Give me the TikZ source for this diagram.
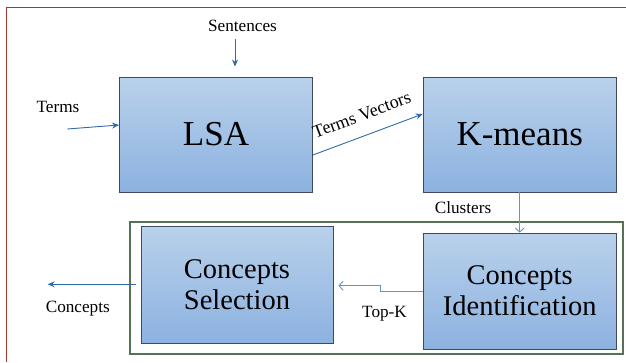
\documentclass[tikz,border=0pt]{standalone}
\usepackage{fontspec}
\setmainfont{Liberation Serif}
\usetikzlibrary{arrows.meta,calc}
\definecolor{boxtop}{HTML}{B9D1EB}
\definecolor{boxbot}{HTML}{8CB2E0}
\definecolor{boxline}{HTML}{3F4A5C}
\definecolor{flowblue}{HTML}{2F6BA9}
\definecolor{lightflow}{HTML}{5E95CB}
\definecolor{framered}{HTML}{A33A2E}
\definecolor{framegreen}{HTML}{557255}

\begin{document}
\begin{tikzpicture}[x=1pt,y=-1pt,
  stage/.style={draw=boxline,line width=0.9pt,top color=boxtop,bottom color=boxbot,
    minimum width=193pt,minimum height=115pt,inner sep=0pt,align=center},
  bigtext/.style={font=\fontsize{35}{38}\selectfont},
  midtext/.style={font=\fontsize{28.5}{31}\selectfont},
  flow/.style={draw=flowblue,line width=0.9pt,-{Stealth[length=7pt,width=6pt]}},
  openflow/.style={draw=lightflow,line width=0.9pt,-{Straight Barb[length=4pt,width=9pt]}},
  lbl/.style={font=\fontsize{17.2}{19}\selectfont,inner sep=0pt,anchor=base}]
  \useasboundingbox (0,0) rectangle (626,362);

  \draw [framered,line width=1.4pt] (6.7,362) -- (6.7,7.3) -- (626,7.3);
  \draw [framegreen,line width=1.2pt] (130,222) rectangle (623,354);

  \node [stage,bigtext] (lsa) at (216,134.5) {LSA};
  \node [stage,bigtext] (kmeans) at (519.7,134.5) {K-means};
  \node [stage,midtext,minimum width=192pt,minimum height=117pt] (select) at (237,284.5) {Concepts\\Selection};
  \node [stage,midtext,minimum height=116pt] (ident) at (519.7,291) {Concepts\\Identification};

  \draw (242.5,31.7) node [lbl] (sentlbl) {Sentences};
  \coordinate (sentin) at (235,39.3);
  \draw [flow,shorten >=10pt] (sentin) -- (sentin |- lsa.north);

  \draw (58,112.7) node [lbl] (termslbl) {Terms};
  \coordinate (termsin) at (67.3,129);
  \draw [flow] (termsin) -- ($(lsa.west)+(0,-9.5)$);

  \draw [flow] ($(lsa.east)+(0,20.5)$) -- ($(kmeans.west)+(0,-20.5)$)
    node [pos=0.51,sloped,above=14pt,inner sep=0pt,font=\fontsize{18}{20}\selectfont] {Terms Vectors};

  \draw (463,213.3) node [lbl] (clusterslbl) {Clusters};
  \draw [openflow] (kmeans.south) -- (ident.north);

  \draw (384.5,317.5) node [lbl] (topklbl) {Top-K};
  \draw [openflow,shorten >=5pt] ($(ident.west)+(0,0.7)$) -| (380,285.7) -- (select.east |- 0,285.7);

  \draw (77.8,312.7) node [lbl] (conclbl) {Concepts};
  \coordinate (concout) at (47.7,284.3);
  \draw [flow,shorten <=4.3pt] (select.west |- concout) -- (concout);
\end{tikzpicture}
\end{document}
